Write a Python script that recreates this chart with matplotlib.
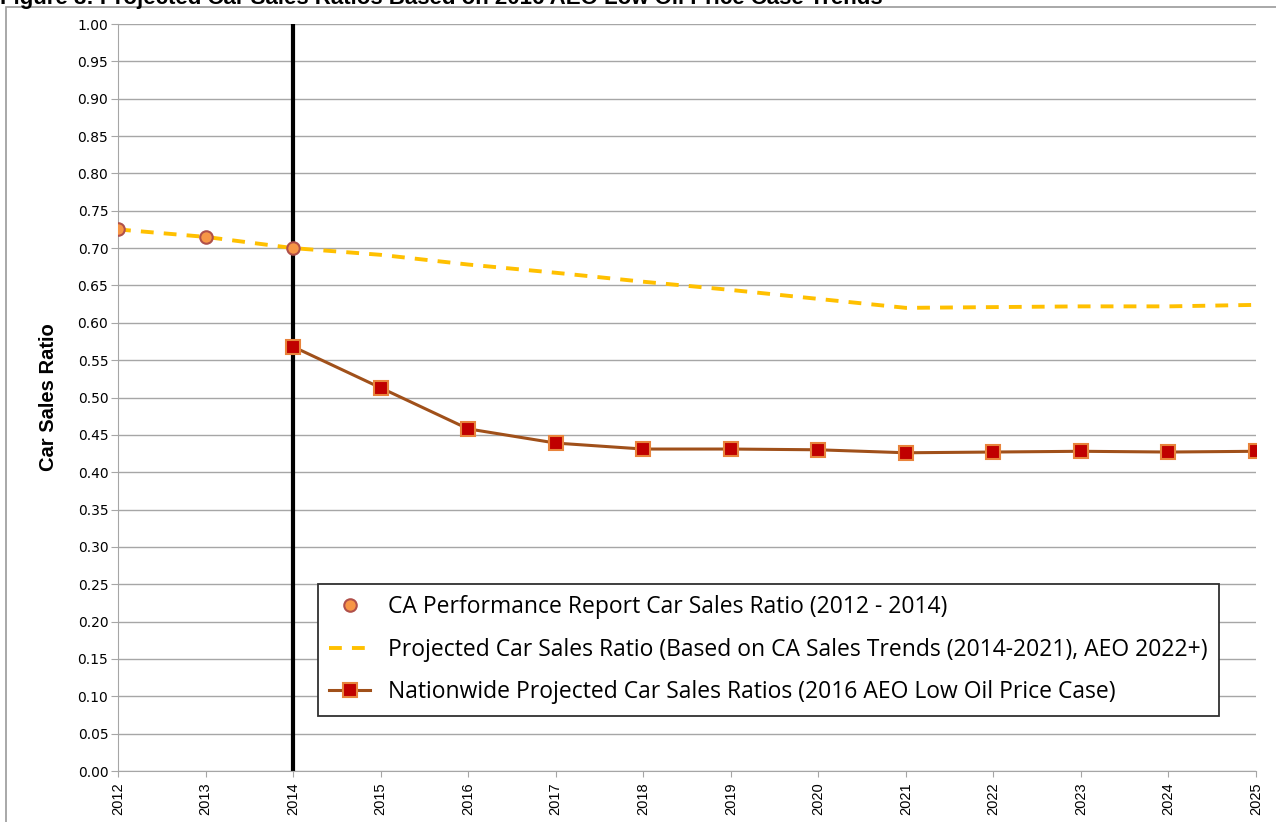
import matplotlib
matplotlib.use("Agg")
import matplotlib.pyplot as plt
from matplotlib.patches import Rectangle
import numpy as np

# data
years = [2012, 2013, 2014, 2015, 2016, 2017, 2018, 2019, 2020, 2021, 2022, 2023, 2024, 2025]
ca_years = [2012, 2013, 2014]
ca_ratio = [0.725, 0.715, 0.700]
projected_ratio = [0.725, 0.715, 0.700, 0.691, 0.678, 0.667, 0.655, 0.644, 0.632,
                   0.620, 0.621, 0.622, 0.622, 0.624]
nat_years = [2014, 2015, 2016, 2017, 2018, 2019, 2020, 2021, 2022, 2023, 2024, 2025]
nat_ratio = [0.568, 0.513, 0.458, 0.439, 0.431, 0.431, 0.430, 0.426, 0.427, 0.428, 0.427, 0.428]
y_ticks = [round(v, 2) for v in np.arange(0, 1.0001, 0.05)]

label_ca = "CA Performance Report Car Sales Ratio (2012 - 2014)"
label_proj = "Projected Car Sales Ratio (Based on CA Sales Trends (2014-2021), AEO 2022+)"
label_nat = "Nationwide Projected Car Sales Ratios (2016 AEO Low Oil Price Case)"

plt.rcParams['font.family'] = ['Liberation Sans', 'DejaVu Sans']

fig = plt.figure(figsize=(12.76, 8.22), dpi=100)
ax = fig.add_axes([118 / 1276, 1 - 771 / 822, (1256 - 118) / 1276, (771 - 24) / 822])

# chart area border
fig.patches.append(Rectangle((6 / 1276, -0.01), 1.2, 1 - 7 / 822 + 0.01, transform=fig.transFigure,
                             fill=False, edgecolor='#9a9a9a', linewidth=1.2))
# title, cut off at the top edge as in the source
fig.text(0.0, 1 - 4 / 822, "Figure 8: Projected Car Sales Ratios Based on 2016 AEO Low Oil Price Case Trends",
         fontsize=16, fontweight='bold', va='baseline', ha='left')

ax.axvline(2014, color='black', linewidth=3, zorder=2)

ax.plot(years, projected_ratio, color='#FFC000', linewidth=2.8, dashes=(3.3, 2.6),
        label=label_proj, zorder=3)
ax.plot(nat_years, nat_ratio, color='#A0501A', linewidth=2.2, marker='s', markersize=9.5,
        markerfacecolor='#C00000', markeredgecolor='#E8843C', markeredgewidth=1.5,
        label=label_nat, zorder=4)
ax.plot(ca_years, ca_ratio, linestyle='none', marker='o', markersize=9,
        markerfacecolor='#F79646', markeredgecolor='#B0504A', markeredgewidth=1.5,
        label=label_ca, zorder=5)

ax.set_xlim(2012, 2025)
ax.set_ylim(0, 1.0)
ax.set_xticks(years)
ax.set_xticklabels([str(y) for y in years], rotation=90, fontsize=10.5)
ax.set_yticks(y_ticks)
ax.set_yticklabels(["%.2f" % v for v in y_ticks], fontsize=10, family='DejaVu Sans')
ax.grid(axis='y', color='#a6a6a6', linewidth=1)
ax.set_axisbelow(True)
for s in ['top', 'right']:
    ax.spines[s].set_visible(False)
for s in ['left', 'bottom']:
    ax.spines[s].set_color('#a6a6a6')
ax.tick_params(axis='y', color='#a6a6a6', length=5, pad=2)
ax.tick_params(axis='x', color='#a6a6a6', length=4, pad=4)

ax.set_ylabel("Car Sales Ratio", fontsize=14.5, fontweight='bold',
              family=['Liberation Sans Narrow', 'Liberation Sans'], labelpad=14)

handles, labels = ax.get_legend_handles_labels()
order = [2, 0, 1]
leg = ax.legend([handles[i] for i in order], [labels[i] for i in order],
                loc='upper left', bbox_to_anchor=((318 - 118) / 1138, (771 - 584) / 747),
                fancybox=False, edgecolor='#303030', framealpha=1,
                prop={'family': ['Open Sans', 'DejaVu Sans'], 'size': 16.5},
                handlelength=1.75, labelspacing=0.8, borderpad=0.5, handletextpad=0.8,
                borderaxespad=0)
leg.get_frame().set_linewidth(1.3)

fig.savefig("out.png", dpi=100)
